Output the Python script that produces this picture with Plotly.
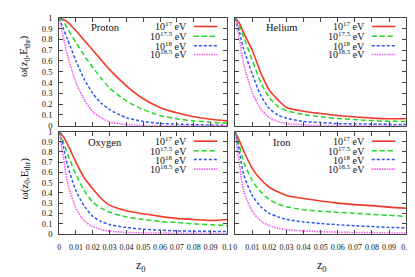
import plotly.graph_objects as go

z0 = [0, 0.0025, 0.005, 0.01, 0.015, 0.02, 0.025, 0.03, 0.04, 0.05, 0.06, 0.07, 0.08, 0.09, 0.1]

energies = ["10<sup>17</sup> eV", "10<sup>17.5</sup> eV", "10<sup>18</sup> eV", "10<sup>18.5</sup> eV"]
panels = ["Proton", "Helium", "Oxygen", "Iron"]

proton_17 = [1, 0.985, 0.96, 0.88, 0.79, 0.70, 0.61, 0.52, 0.37, 0.25, 0.17, 0.12, 0.083, 0.06, 0.045]
proton_175 = [1, 0.97, 0.9, 0.77, 0.65, 0.54, 0.44, 0.35, 0.23, 0.15, 0.095, 0.065, 0.045, 0.033, 0.025]
proton_18 = [1, 0.9, 0.8, 0.6, 0.43, 0.30, 0.21, 0.15, 0.075, 0.04, 0.022, 0.015, 0.01, 0.007, 0.005]
proton_185 = [1, 0.82, 0.65, 0.40, 0.24, 0.13, 0.075, 0.035, 0.012, 0.003, 0.001, 0, 0, 0, 0]

helium_17 = [1, 0.95, 0.86, 0.70, 0.49, 0.33, 0.24, 0.17, 0.135, 0.113, 0.095, 0.083, 0.071, 0.065, 0.068]
helium_175 = [1, 0.92, 0.82, 0.61, 0.40, 0.26, 0.18, 0.14, 0.105, 0.083, 0.068, 0.057, 0.048, 0.042, 0.04]
helium_18 = [1, 0.87, 0.71, 0.48, 0.28, 0.16, 0.10, 0.07, 0.04, 0.03, 0.02, 0.017, 0.015, 0.013, 0.012]
helium_185 = [1, 0.8, 0.57, 0.31, 0.155, 0.075, 0.04, 0.02, 0.008, 0.003, 0.001, 0, 0, 0, 0]

oxygen_17 = [1, 0.95, 0.875, 0.70, 0.545, 0.44, 0.345, 0.28, 0.225, 0.195, 0.17, 0.15, 0.14, 0.13, 0.14]
oxygen_175 = [1, 0.9, 0.78, 0.58, 0.42, 0.31, 0.25, 0.21, 0.165, 0.14, 0.12, 0.11, 0.097, 0.088, 0.08]
oxygen_18 = [1, 0.85, 0.67, 0.42, 0.27, 0.17, 0.12, 0.09, 0.06, 0.045, 0.035, 0.028, 0.025, 0.023, 0.022]
oxygen_185 = [1, 0.75, 0.5, 0.25, 0.125, 0.07, 0.04, 0.025, 0.013, 0.008, 0.006, 0.005, 0.004, 0.003, 0.003]

iron_17 = [1, 0.91, 0.81, 0.64, 0.53, 0.455, 0.41, 0.375, 0.345, 0.32, 0.30, 0.285, 0.275, 0.26, 0.25]
iron_175 = [1, 0.86, 0.705, 0.52, 0.41, 0.335, 0.29, 0.265, 0.235, 0.22, 0.21, 0.20, 0.19, 0.18, 0.17]
iron_18 = [1, 0.8, 0.58, 0.375, 0.265, 0.20, 0.165, 0.14, 0.115, 0.10, 0.088, 0.078, 0.07, 0.062, 0.058]
iron_185 = [1, 0.68, 0.42, 0.22, 0.125, 0.08, 0.053, 0.04, 0.028, 0.02, 0.015, 0.012, 0.01, 0.008, 0.006]

data = [
    [proton_17, proton_175, proton_18, proton_185],
    [helium_17, helium_175, helium_18, helium_185],
    [oxygen_17, oxygen_175, oxygen_18, oxygen_185],
    [iron_17, iron_175, iron_18, iron_185],
]

x_ticks = [0, 0.01, 0.02, 0.03, 0.04, 0.05, 0.06, 0.07, 0.08, 0.09, 0.1]
x_ticklabels = ["0", "0.01", "0.02", "0.03", "0.04", "0.05", "0.06", "0.07", "0.08", "0.09", "0.1"]
y_ticks = [0, 0.1, 0.2, 0.3, 0.4, 0.5, 0.6, 0.7, 0.8, 0.9, 1]
y_ticklabels = ["0", "0.1", "0.2", "0.3", "0.4", "0.5", "0.6", "0.7", "0.8", "0.9", "1"]

colors = ["#f33a26", "#22d822", "#2c58f0", "#f060f0"]
dashes = ["solid", "5px,3px", "3px,2px", "1.5px,1px"]
widths = [1.6, 1.5, 1.5, 1.6]

W, H = 415, 277
xdoms = [[50 / W, 221 / W], [229 / W, 403 / W]]
ydoms = [[(H - 117) / H, (H - 5) / H], [(H - 229) / H, (H - 123) / H]]

FONT = "Liberation Serif, Times New Roman, serif"
fig = go.Figure()

for p in range(4):
    row, col = divmod(p, 2)
    ax = "" if p == 0 else str(p + 1)
    for k in range(4):
        fig.add_trace(go.Scatter(
            x=z0, y=data[p][k], mode="lines",
            line=dict(color=colors[k], dash=dashes[k], width=widths[k], shape="spline", smoothing=0.7),
            xaxis="x" + ax, yaxis="y" + ax, showlegend=False, hoverinfo="skip"))
    common = dict(showline=True, linecolor="#444", linewidth=1, mirror="ticks",
                  ticks="inside", ticklen=4, tickcolor="#444", tickwidth=1,
                  showgrid=False, zeroline=False, tickangle=0)
    fig.update_layout(**{
        "xaxis" + ax: dict(domain=xdoms[col], range=[0, 0.1], tickvals=x_ticks,
                           ticktext=x_ticklabels, showticklabels=(row == 1),
                           anchor="y" + ax, ticklabelstandoff=6,
                           tickfont=dict(family=FONT, size=8, color="#111"), **common),
        "yaxis" + ax: dict(domain=ydoms[row], range=[0, 1], tickvals=y_ticks,
                           ticktext=y_ticklabels, showticklabels=(col == 0),
                           anchor="x" + ax, ticklabelstandoff=4,
                           tickfont=dict(family=FONT, size=8.5, color="#111"), **common),
    })

    # panel title
    tx = [97, 277][col]
    ty = [15, 134][row]
    fig.add_annotation(x=tx / W, y=1 - ty / H, xref="paper", yref="paper",
                       text=panels[p], showarrow=False, xanchor="center", yanchor="middle",
                       font=dict(family=FONT, size=10.5, color="#111"))
    # legend
    text_end = [182, 363][col]
    line_x0 = [187, 368][col]
    line_x1 = [211, 392][col]
    rows_y = [[14, 24, 34, 43], [133, 143, 152, 162]][row]
    for k in range(4):
        yy = 1 - rows_y[k] / H
        fig.add_annotation(x=text_end / W, y=yy, xref="paper", yref="paper",
                           text=energies[k], showarrow=False, xanchor="right", yanchor="middle",
                           font=dict(family=FONT, size=10, color="#111"))
        fig.add_shape(type="line", xref="paper", yref="paper",
                      x0=line_x0 / W, x1=line_x1 / W, y0=yy, y1=yy,
                      line=dict(color=colors[k], dash=dashes[k], width=widths[k]))

# axis titles
for ty in [45, 172]:
    fig.add_annotation(x=15 / W, y=1 - ty / H, xref="paper", yref="paper",
                       text="ω(z<sub>0</sub>,E<sub>thr</sub>)", showarrow=False, textangle=-90,
                       xanchor="center", yanchor="middle",
                       font=dict(family=FONT, size=11, color="#111"))
for tx in [133, 317]:
    fig.add_annotation(x=tx / W, y=1 - 262 / H, xref="paper", yref="paper",
                       text="z<sub>0</sub>", showarrow=False, xanchor="center", yanchor="middle",
                       font=dict(family=FONT, size=12, color="#111"))

fig.update_layout(width=W, height=H, margin=dict(l=0, r=0, t=0, b=0),
                  paper_bgcolor="white", plot_bgcolor="white", showlegend=False)

fig.write_html("out.html")
